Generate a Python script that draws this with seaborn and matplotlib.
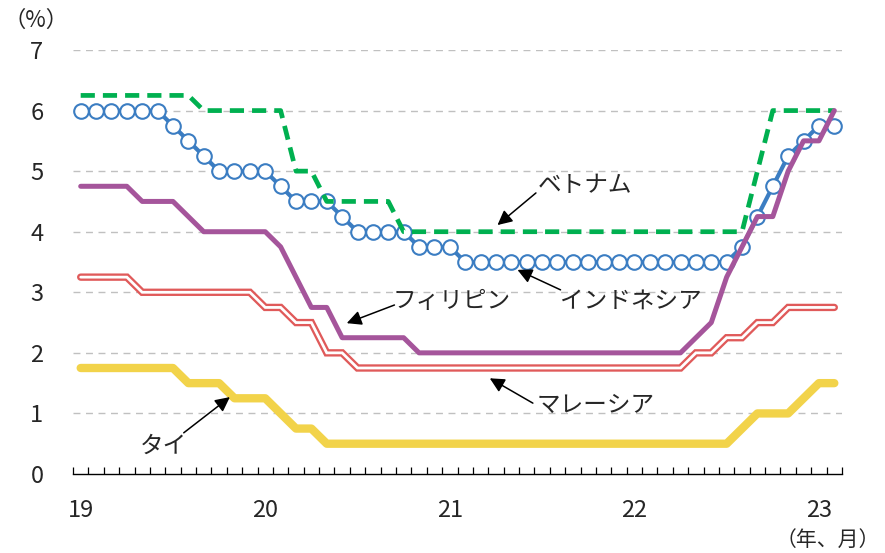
import pandas as pd
import matplotlib
matplotlib.use('Agg')
import matplotlib.pyplot as plt
import seaborn as sns

# monthly policy rates, Jan 2019 - Feb 2023 (%)
months = pd.period_range('2019-01', '2023-02', freq='M')

indonesia = [6.0, 6.0, 6.0, 6.0, 6.0, 6.0, 5.75, 5.5, 5.25, 5.0, 5.0, 5.0,
             5.0, 4.75, 4.5, 4.5, 4.5, 4.25, 4.0, 4.0, 4.0, 4.0, 3.75, 3.75,
             3.75, 3.5, 3.5, 3.5, 3.5, 3.5, 3.5, 3.5, 3.5, 3.5, 3.5, 3.5,
             3.5, 3.5, 3.5, 3.5, 3.5, 3.5, 3.5, 3.75, 4.25, 4.75, 5.25, 5.5,
             5.75, 5.75]
vietnam = [6.25, 6.25, 6.25, 6.25, 6.25, 6.25, 6.25, 6.25, 6.0, 6.0, 6.0, 6.0,
           6.0, 6.0, 5.0, 5.0, 4.5, 4.5, 4.5, 4.5, 4.5, 4.0, 4.0, 4.0,
           4.0, 4.0, 4.0, 4.0, 4.0, 4.0, 4.0, 4.0, 4.0, 4.0, 4.0, 4.0,
           4.0, 4.0, 4.0, 4.0, 4.0, 4.0, 4.0, 4.0, 5.0, 6.0, 6.0, 6.0,
           6.0, 6.0]
philippines = [4.75, 4.75, 4.75, 4.75, 4.5, 4.5, 4.5, 4.25, 4.0, 4.0, 4.0, 4.0,
               4.0, 3.75, 3.25, 2.75, 2.75, 2.25, 2.25, 2.25, 2.25, 2.25, 2.0, 2.0,
               2.0, 2.0, 2.0, 2.0, 2.0, 2.0, 2.0, 2.0, 2.0, 2.0, 2.0, 2.0,
               2.0, 2.0, 2.0, 2.0, 2.25, 2.5, 3.25, 3.75, 4.25, 4.25, 5.0, 5.5,
               5.5, 6.0]
malaysia = [3.25, 3.25, 3.25, 3.25, 3.0, 3.0, 3.0, 3.0, 3.0, 3.0, 3.0, 3.0,
            2.75, 2.75, 2.5, 2.5, 2.0, 2.0, 1.75, 1.75, 1.75, 1.75, 1.75, 1.75,
            1.75, 1.75, 1.75, 1.75, 1.75, 1.75, 1.75, 1.75, 1.75, 1.75, 1.75, 1.75,
            1.75, 1.75, 1.75, 1.75, 2.0, 2.0, 2.25, 2.25, 2.5, 2.5, 2.75, 2.75,
            2.75, 2.75]
thailand = [1.75, 1.75, 1.75, 1.75, 1.75, 1.75, 1.75, 1.5, 1.5, 1.5, 1.25, 1.25,
            1.25, 1.0, 0.75, 0.75, 0.5, 0.5, 0.5, 0.5, 0.5, 0.5, 0.5, 0.5,
            0.5, 0.5, 0.5, 0.5, 0.5, 0.5, 0.5, 0.5, 0.5, 0.5, 0.5, 0.5,
            0.5, 0.5, 0.5, 0.5, 0.5, 0.5, 0.5, 0.75, 1.0, 1.0, 1.0, 1.25,
            1.5, 1.5]

year_labels = ['19', '20', '21', '22', '23']

sns.set_style('white')
plt.rcParams['font.family'] = ['Noto Sans CJK JP', 'DejaVu Sans']

fig = plt.figure(figsize=(8.85, 5.53), dpi=100)
ax = fig.add_axes([73 / 885, 79 / 553, 769 / 885, 424 / 553])

x = list(range(len(months)))

sns.lineplot(x=x, y=indonesia, ax=ax, color='#3b7dc2', lw=3, marker='o',
             markersize=10.5, markerfacecolor='white', markeredgecolor='#3b7dc2',
             markeredgewidth=1.5, zorder=3)
sns.lineplot(x=x, y=vietnam, ax=ax, color='#00b050', lw=3.4,
             linestyle=(0, (3, 1.7)), zorder=4)
sns.lineplot(x=x, y=malaysia, ax=ax, color='#e05a5a', lw=5.3,
             solid_capstyle='round', solid_joinstyle='miter', zorder=3)
sns.lineplot(x=x, y=malaysia, ax=ax, color='white', lw=2,
             solid_capstyle='round', solid_joinstyle='miter', zorder=3)
sns.lineplot(x=x, y=thailand, ax=ax, color='#f2d34a', lw=6,
             solid_capstyle='round', zorder=3)
sns.lineplot(x=x, y=philippines, ax=ax, color='#a5559b', lw=3.6,
             solid_capstyle='round', zorder=5)

ax.set_xlim(-0.5, len(months) - 0.5)
ax.set_ylim(0, 7)
ax.set_yticks(range(0, 8))
ax.set_yticklabels([str(v) for v in range(0, 8)], fontsize=17)
ax.set_xticks([0, 12, 24, 36, 48])
ax.set_xticklabels(year_labels, fontsize=17)
ax.set_xticks([i - 0.5 for i in range(len(months) + 1)], minor=True)
ax.tick_params(axis='x', which='major', length=0, pad=18)
ax.tick_params(axis='x', which='minor', direction='in', length=5, width=0.9,
               color='black', bottom=True)
ax.tick_params(axis='y', length=0, pad=26)
for lab in ax.get_yticklabels():
    lab.set_horizontalalignment('center')

for v in range(1, 8):
    ax.axhline(v, color='#c0c0c0', lw=1, linestyle=(0, (5, 4)), zorder=1)

for side in ['top', 'right', 'left']:
    ax.spines[side].set_visible(False)
ax.spines['bottom'].set_color('black')
ax.spines['bottom'].set_linewidth(1)
ax.set_xlabel('')
ax.set_ylabel('')

# labels with arrows
notes = [
    ('ベトナム', (32.8, 4.76), (29.6, 4.64), (27.1, 4.11)),
    ('インドネシア', (35.8, 2.86), (31.2, 3.04), (28.4, 3.37)),
    ('フィリピン', (24.1, 2.84), (20.4, 2.79), (17.3, 2.49)),
    ('マレーシア', (33.5, 1.14), (29.4, 1.17), (26.6, 1.58)),
    ('タイ', (5.4, 0.45), (6.7, 0.68), (9.7, 1.27)),
]
for name, txt, tail, tip in notes:
    ax.text(txt[0], txt[1], name, fontsize=17, ha='center', va='center', zorder=6)
    ax.annotate('', xy=tip, xytext=tail,
                arrowprops=dict(arrowstyle='-|>', color='black', lw=1.1,
                                mutation_scale=22, shrinkA=0, shrinkB=0),
                zorder=6)

fig.text(36 / 885, 1 - 20 / 553, '（%）', fontsize=16, ha='center', va='center')
fig.text(880 / 885, 1 - 540 / 553, '（年、月）', fontsize=15, ha='right', va='center')

fig.savefig('out.png', dpi=100)
